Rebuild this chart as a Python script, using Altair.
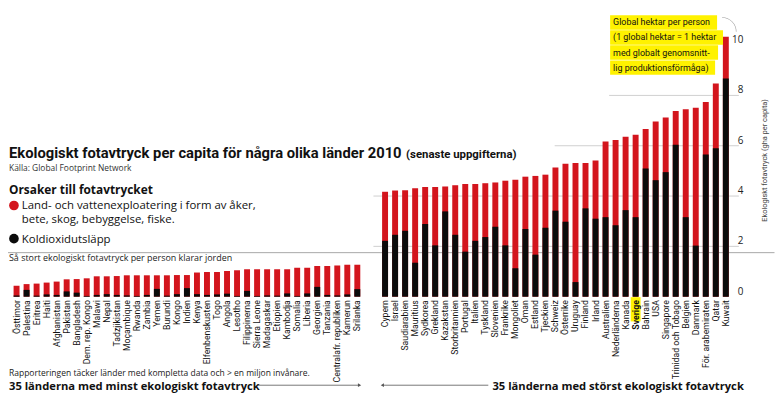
import altair as alt
import pandas as pd

# ---------------- data ----------------
left_countries = ["Östtimor", "Palestina", "Eritrea", "Haiti", "Afghanistan", "Pakistan",
                  "Bangladesh", "Dem. rep. Kongo", "Malawi", "Nepal", "Tadzjikistan",
                  "Moçambique", "Rwanda", "Zambia", "Yemen", "Burundi", "Kongo", "Indien",
                  "Kenya", "Elfenbenskusten", "Togo", "Angola", "Lesotho", "Filippinerna",
                  "Sierra Leone", "Madagaskar", "Etiopien", "Kambodja", "Somalia", "Liberia",
                  "Georgien", "Tanzania", "Centralafr. republiken", "Kamerun", "Srilanka"]
left_total = [0.43, 0.50, 0.52, 0.56, 0.60, 0.69, 0.70, 0.73, 0.81, 0.81, 0.82, 0.85,
              0.85, 0.85, 0.85, 0.85, 0.86, 0.86, 0.96, 0.98, 0.98, 1.02, 1.05, 1.09,
              1.09, 1.09, 1.09, 1.09, 1.15, 1.15, 1.22, 1.22, 1.24, 1.27, 1.27]
left_co2 = [0.05, 0.27, 0.04, 0.09, 0.07, 0.21, 0.16, 0.03, 0.07, 0.10, 0.07, 0.05,
            0.03, 0.07, 0.31, 0.04, 0.10, 0.34, 0.10, 0.07, 0.09, 0.12, 0.03, 0.23,
            0.03, 0.05, 0.04, 0.13, 0.03, 0.13, 0.39, 0.07, 0.05, 0.09, 0.30]

right_countries = ["Cypern", "Israel", "Saudiarabien", "Mauritius", "Sydkorea", "Grekland",
                   "Kazakstan", "Storbritannien", "Portugal", "Italien", "Tyskland",
                   "Slovenien", "Frankrike", "Mongoliet", "Oman", "Estland", "Tjeckien",
                   "Schweiz", "Österrike", "Uruguay", "Finland", "Irland", "Australien",
                   "Nederländerna", "Kanada", "Sverige", "Bahrain", "USA", "Singapore",
                   "Trinidad och Tobago", "Belgien", "Danmark", "För. arabemiraten",
                   "Qatar", "Kuwait"]
right_total = [4.17, 4.22, 4.23, 4.31, 4.36, 4.36, 4.38, 4.43, 4.48, 4.48, 4.51, 4.54,
               4.61, 4.65, 4.77, 4.80, 4.85, 5.13, 5.28, 5.31, 5.31, 5.41, 6.17, 6.23,
               6.36, 6.44, 6.67, 6.96, 7.12, 7.38, 7.45, 7.51, 7.74, 8.47, 10.33]
right_co2 = [2.22, 2.46, 2.62, 1.35, 2.89, 2.04, 3.39, 2.46, 1.79, 2.22, 2.37, 2.78,
             2.04, 1.13, 2.69, 1.67, 2.74, 3.42, 2.98, 0.58, 3.51, 3.10, 3.16, 2.84,
             3.44, 3.16, 5.10, 4.63, 4.95, 6.04, 3.16, 2.03, 5.65, 5.90, 8.67]

biocapacity = 1.75
y_ticks = [0, 2, 4, 6, 8, 10]

# ---------------- layout ----------------
W, H = 735.5, 289.6
M = 8  # page margin
GAP = 2.77
RED = "#d3151d"
BLACK = "#0b0b0b"
YELLOW = "#fff200"
NARROW = "Liberation Sans Narrow, Roboto"
SANS = "Open Sans, Roboto"


def rx(v):
    return v - M


def ry(v):
    return v - M


pos = list(range(len(left_countries))) + [len(left_countries) - 1 + GAP + j
                                          for j in range(len(right_countries))]
df = pd.DataFrame({
    "land": left_countries + right_countries,
    "total": left_total + right_total,
    "co2": left_co2 + right_co2,
    "pos": pos,
})
ticks_df = pd.DataFrame({"v": y_ticks})

xenc = alt.X("pos:Q", scale=alt.Scale(domain=[-0.36, 71.33], nice=False, zero=False), axis=None)
yscale = alt.Scale(domain=[0, 11.40], nice=False, zero=True)

one = alt.Data(values=[{}])

layers = []

# gridlines
for val, x_start in [(2, 377), (4, 377), (6, 560), (8, 615)]:
    layers.append(
        alt.Chart(one).mark_rule(color="#cfcfcf", strokeWidth=1).encode(
            x=alt.value(rx(x_start)), x2=alt.value(rx(746)),
            y=alt.Y(datum=val, scale=yscale, axis=None)))

# biocapacity line
layers.append(
    alt.Chart(one).mark_rule(color="#a8a8a8", strokeWidth=1).encode(
        x=alt.value(rx(8)), x2=alt.value(rx(782)),
        y=alt.Y(datum=biocapacity, scale=yscale, axis=None)))

base = alt.Chart(df)
red_bars = base.mark_bar(size=6, color=RED).encode(
    x=xenc, y=alt.Y("total:Q", scale=yscale, axis=None))
black_bars = base.mark_bar(size=6, color=BLACK).encode(
    x=xenc, y=alt.Y("co2:Q", scale=yscale, axis=None))
layers += [red_bars, black_bars]

# y tick labels (right side)
layers.append(
    alt.Chart(ticks_df).mark_text(align="right", baseline="bottom", fontSize=10,
                                  font=SANS, color="#222").encode(
        x=alt.value(rx(750.5)),
        y=alt.Y("v:Q", scale=yscale, axis=None),
        text=alt.Text("v:Q")))

# Sverige highlight
layers.append(
    base.transform_filter(alt.datum.land == "Sverige").mark_bar(size=10, color=YELLOW).encode(
        x=xenc, y=alt.value(H + 0.5), y2=alt.value(H + 25)))

# country labels
layers.append(
    base.transform_filter(alt.datum.land != "Sverige").mark_text(
        angle=270, align="right", baseline="middle", fontSize=8.8, font=NARROW,
        color="#111").encode(x=xenc, y=alt.value(H + 3.5), text="land:N"))
layers.append(
    base.transform_filter(alt.datum.land == "Sverige").mark_text(
        angle=270, align="right", baseline="middle", fontSize=8.8, font=NARROW,
        fontWeight="bold", color="#111").encode(x=xenc, y=alt.value(H + 3.5), text="land:N"))


def txt(s, x, y, size, weight="normal", color="#111", font=SANS, align="left",
        baseline="alphabetic", angle=0):
    kw = dict(text=s, fontSize=size, fontWeight=weight, color=color, font=font,
              align=align, baseline=baseline)
    if angle:
        kw["angle"] = angle
    return alt.Chart(one).mark_text(**kw).encode(x=alt.value(rx(x)), y=alt.value(ry(y)))


def box(x1, x2, y1, y2, color):
    return alt.Chart(one).mark_rect(color=color).encode(
        x=alt.value(rx(x1)), x2=alt.value(rx(x2)), y=alt.value(ry(y1)), y2=alt.value(ry(y2)))


LX = 9  # left text edge

# title block
layers.append(txt("Ekologiskt fotavtryck per capita för några olika länder 2010", LX, 158,
                  14.9, "bold", "#111", NARROW))
layers.append(txt("(senaste uppgifterna)", 410, 158, 11.5, "bold", "#111", NARROW))
layers.append(txt("Källa: Global Footprint Network", LX, 170.5, 8.5, "normal", "#333"))
layers.append(txt("Orsaker till fotavtrycket", LX, 194, 12, "bold", "#111"))
layers.append(alt.Chart(one).mark_circle(size=95, color=RED, opacity=1).encode(
    x=alt.value(rx(14)), y=alt.value(ry(205.5))))
layers.append(txt("Land- och vattenexploatering i form av åker,", 22, 209.5, 11.5))
layers.append(txt("bete, skog, bebyggelse, fiske.", 22, 223.5, 11.5))
layers.append(alt.Chart(one).mark_circle(size=95, color=BLACK, opacity=1).encode(
    x=alt.value(rx(14)), y=alt.value(ry(239))))
layers.append(txt("Koldioxidutsläpp", 22, 243, 11.5))
layers.append(txt("Så stort ekologiskt fotavtryck per person klarar jorden", LX, 262, 9,
                  "normal", "#222"))

# bottom notes
layers.append(txt("Rapporteringen täcker länder med kompletta data och > en miljon invånare.",
                  LX, 377.5, 8.6, "normal", "#222"))
layers.append(txt("35 länderna med minst ekologiskt fotavtryck", LX, 391.5, 11.3, "bold", "#111"))
layers.append(txt("35 länderna med störst ekologiskt fotavtryck", 751, 391.5, 11.3, "bold",
                  "#111", align="right"))
layers.append(alt.Chart(one).mark_rule(color="#555", strokeWidth=0.8).encode(
    x=alt.value(rx(260)), x2=alt.value(rx(362)), y=alt.value(ry(387))))
layers.append(alt.Chart(one).mark_rule(color="#555", strokeWidth=0.8).encode(
    x=alt.value(rx(387)), x2=alt.value(rx(493)), y=alt.value(ry(387))))
layers.append(alt.Chart(one).mark_point(shape="triangle-right", size=14, filled=True,
                                        color="#555", opacity=1).encode(
    x=alt.value(rx(363)), y=alt.value(ry(387))))
layers.append(alt.Chart(one).mark_point(shape="triangle-left", size=14, filled=True,
                                        color="#555", opacity=1).encode(
    x=alt.value(rx(386)), y=alt.value(ry(387))))

# y-axis title
layers.append(txt("Ekologiskt fotavtryck (gha per capita)", 772, 160, 7.5, "normal", "#444",
                  NARROW, align="center", baseline="middle", angle=270))

# yellow annotation
ann_lines = ["Global hektar per person", "(1 global hektar = 1 hektar",
             "med globalt genomsnitt-", "lig produktionsförmåga)"]
ann_right = [724, 730, 725, 722]
for k, (line, xr) in enumerate(zip(ann_lines, ann_right)):
    yc = 20.7 + k * 15.2
    layers.append(box(616, xr, yc - 7.3, yc + 7.3, YELLOW))
    layers.append(txt(line, 619, yc, 9, "normal", "#111", font="Roboto", align="left",
                      baseline="middle"))

layers.append(alt.Chart(one).mark_arc(color="#999", radius=14.6, radius2=14, theta=0,
                                      theta2=1.5708).encode(
    x=alt.value(rx(729)), y=alt.value(ry(30))))

chart = alt.layer(*layers).properties(
    width=W, height=H,
    background="white",
    autosize=alt.AutoSizeParams(type="none"),
    padding={"left": 0, "top": 0, "right": 40, "bottom": 100},
).configure_view(strokeWidth=0)

chart.save("out.html", embed_options={"renderer": "svg", "actions": False})
